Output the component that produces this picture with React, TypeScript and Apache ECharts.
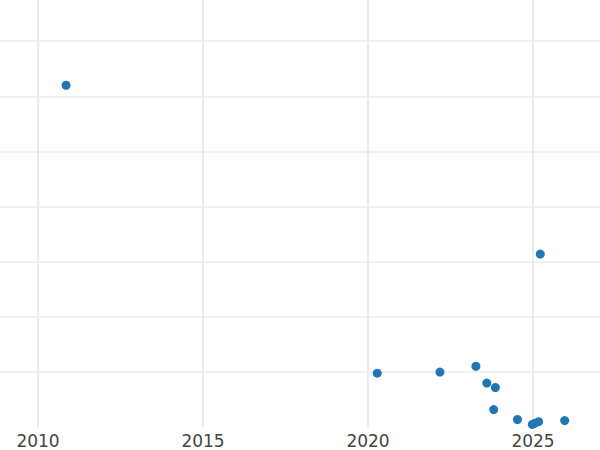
import React, { useEffect, useRef } from 'react';
import * as echarts from 'echarts';

// year (decimal) and value of each point
const years = [2010.85, 2020.28, 2022.18, 2023.27, 2023.6, 2023.86, 2023.81, 2024.53, 2024.98, 2025.05, 2025.17, 2025.96, 2025.22];
const values = [62.0, 9.8, 10.0, 11.05, 8.0, 7.2, 3.2, 1.4, 0.5, 0.7, 1.0, 1.2, 31.4];

const xTicks = [2005, 2010, 2015, 2020, 2025, 2030];

export default function App() {
  const chartRef = useRef<HTMLDivElement>(null);

  useEffect(() => {
    const chart = echarts.init(chartRef.current, null, { renderer: 'svg' });

    // the plot is wider/taller than the window: only the middle part shows
    const option = {
      animation: false,
      grid: {
        left: 0,
        right: 0,
        top: 0,
        bottom: 22.8,
        containLabel: false,
        outerBoundsMode: 'none'
      },
      xAxis: {
        type: 'value',
        min: xTicks[0],
        max: xTicks[xTicks.length - 1],
        interval: 5,
        axisLine: { show: false },
        axisTick: { show: false },
        axisLabel: {
          formatter: (v: number) => String(v),
          showMinLabel: false,
          showMaxLabel: false,
          color: '#444',
          fontSize: 17,
          fontFamily: 'DejaVu Sans',
          margin: 5
        },
        splitLine: { show: true, lineStyle: { color: '#ebebeb', width: 2 } }
      },
      yAxis: {
        type: 'value',
        min: 0,
        max: 80,
        interval: 10,
        axisLine: { show: false },
        axisTick: { show: false },
        axisLabel: { show: false },
        splitLine: { show: true, showMinLine: false, lineStyle: { color: '#ebebeb', width: 1.5 } }
      },
      series: [
        {
          type: 'scatter',
          symbolSize: 9,
          clip: true,
          itemStyle: { color: '#1f77b4', opacity: 1 },
          data: years.map((y, i) => [y, values[i]])
        }
      ]
    };

    chart.setOption(option);
    return () => {
      chart.dispose();
    };
  }, []);

  return (
    <div style={{ position: 'absolute', left: 0, top: 0, width: '600px', height: '450px', overflow: 'hidden' }}>
      <div
        ref={chartRef}
        style={{ position: 'absolute', left: '-127.3px', top: '-13.6px', width: '824.6px', height: '463.6px' }}
      ></div>
    </div>
  );
}
